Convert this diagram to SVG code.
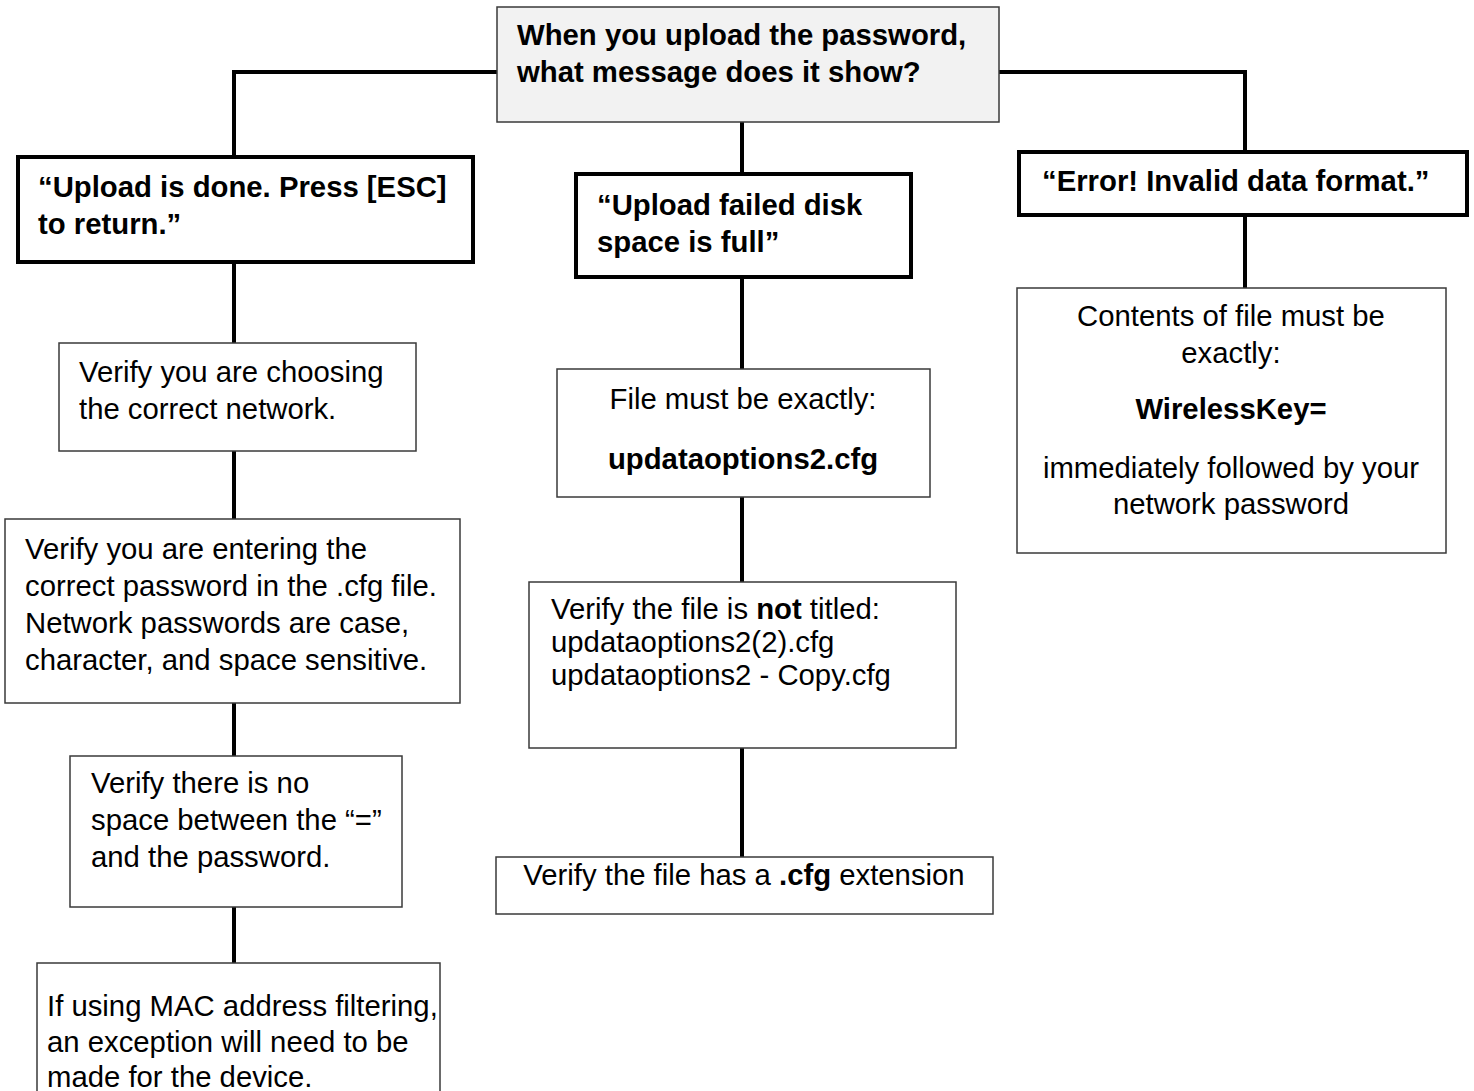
<svg xmlns="http://www.w3.org/2000/svg" width="1474" height="1091" viewBox="0 0 1474 1091">
<style>
.bg{fill:#ffffff}
.thin{fill:#ffffff;stroke:#3a3a3a;stroke-width:1.5}
.top{fill:#f2f2f2;stroke:#3a3a3a;stroke-width:1.5}
.thick{fill:#ffffff;stroke:#000000;stroke-width:4}
.conn{fill:none;stroke:#000000;stroke-width:4}
text{font-family:"Liberation Sans",Arial,sans-serif;font-size:29.3px;fill:#000000}
.b{font-weight:bold}
.c{text-anchor:middle}
</style>
<rect class="bg" x="0" y="0" width="1474" height="1091"/>
<g id="connectors">
<polyline class="conn" points="234,157 234,72 497,72"/>
<polyline class="conn" points="999,72 1245,72 1245,152"/>
<line class="conn" x1="742" y1="122" x2="742" y2="174"/>
<line class="conn" x1="234" y1="262" x2="234" y2="343"/>
<line class="conn" x1="234" y1="451" x2="234" y2="519"/>
<line class="conn" x1="234" y1="703" x2="234" y2="756"/>
<line class="conn" x1="234" y1="907" x2="234" y2="963"/>
<line class="conn" x1="742" y1="277" x2="742" y2="369"/>
<line class="conn" x1="742" y1="497" x2="742" y2="582"/>
<line class="conn" x1="742" y1="748" x2="742" y2="857"/>
<line class="conn" x1="1245" y1="215" x2="1245" y2="288"/>
</g>
<g id="question">
<rect class="top" x="497" y="7" width="502" height="115"/>
<text class="b" x="517" y="45">When you upload the password,</text>
<text class="b" x="517" y="82">what message does it show?</text>
</g>
<g id="msg-done">
<rect class="thick" x="18" y="157" width="455" height="105"/>
<text class="b" x="38" y="197">“Upload is done. Press [ESC]</text>
<text class="b" x="38" y="234">to return.”</text>
</g>
<g id="msg-full">
<rect class="thick" x="576" y="174" width="335" height="103"/>
<text class="b" x="597" y="215">“Upload failed disk</text>
<text class="b" x="597" y="252">space is full”</text>
</g>
<g id="msg-error">
<rect class="thick" x="1019" y="152" width="448" height="63"/>
<text class="b" x="1042" y="191">“Error! Invalid data format.”</text>
</g>
<g id="verify-network">
<rect class="thin" x="59" y="343" width="357" height="108"/>
<text x="79" y="382">Verify you are choosing</text>
<text x="79" y="419">the correct network.</text>
</g>
<g id="verify-password">
<rect class="thin" x="5" y="519" width="455" height="184"/>
<text x="25" y="559">Verify you are entering the</text>
<text x="25" y="596">correct password in the .cfg file.</text>
<text x="25" y="633">Network passwords are case,</text>
<text x="25" y="670">character, and space sensitive.</text>
</g>
<g id="verify-space">
<rect class="thin" x="70" y="756" width="332" height="151"/>
<text x="91" y="793">Verify there is no</text>
<text x="91" y="830">space between the “=”</text>
<text x="91" y="867">and the password.</text>
</g>
<g id="mac-filter">
<rect class="thin" x="37" y="963" width="403" height="140"/>
<text x="47" y="1016">If using MAC address filtering,</text>
<text x="47" y="1052">an exception will need to be</text>
<text x="47" y="1087">made for the device.</text>
</g>
<g id="file-name">
<rect class="thin" x="557" y="369" width="373" height="128"/>
<text class="c" x="743" y="409">File must be exactly:</text>
<text class="c b" x="743" y="469">updataoptions2.cfg</text>
</g>
<g id="not-titled">
<rect class="thin" x="529" y="582" width="427" height="166"/>
<text x="551" y="619">Verify the file is <tspan class="b">not</tspan> titled:</text>
<text x="551" y="652">updataoptions2(2).cfg</text>
<text x="551" y="685">updataoptions2 - Copy.cfg</text>
</g>
<g id="extension">
<rect class="thin" x="496" y="857" width="497" height="57"/>
<text class="c" x="744" y="885">Verify the file has a <tspan class="b">.cfg</tspan> extension</text>
</g>
<g id="contents">
<rect class="thin" x="1017" y="288" width="429" height="265"/>
<text class="c" x="1231" y="326">Contents of file must be</text>
<text class="c" x="1231" y="363">exactly:</text>
<text class="c b" x="1231" y="419">WirelessKey=</text>
<text class="c" x="1231" y="478">immediately followed by your</text>
<text class="c" x="1231" y="514">network password</text>
</g>
</svg>
